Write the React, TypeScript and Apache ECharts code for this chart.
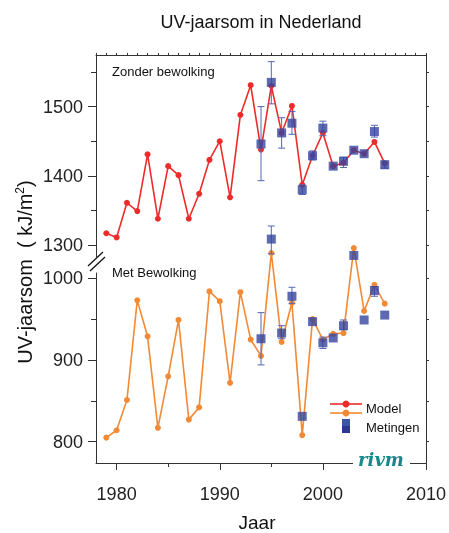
import React, { useEffect, useRef } from 'react';
import * as echarts from 'echarts';

const modelYears = [1979, 1980, 1981, 1982, 1983, 1984, 1985, 1986, 1987, 1988, 1989, 1990, 1991, 1992, 1993, 1994, 1995, 1996, 1997, 1998, 1999, 2000, 2001, 2002, 2003, 2004, 2005, 2006];
const modelClear = [1317, 1311, 1361, 1349, 1431, 1338, 1414, 1401, 1338, 1374, 1423, 1450, 1369, 1488, 1531, 1438, 1530, 1462, 1501, 1387, 1429, 1462, 1414, 1419, 1437, 1432, 1449, 1418];
const modelCloudy = [805, 814, 851, 973, 929, 817, 880, 949, 827, 842, 984, 972, 872, 983, 925, 905, 1031, 922, 970, 808, 950, 925, 932, 933, 1037, 960, 992, 969];

const measYears = [1994, 1995, 1996, 1997, 1998, 1999, 2000, 2001, 2002, 2003, 2004, 2005, 2006];
const measClear = [1446, 1535, 1462, 1476, 1380, 1429, 1469, 1414, 1421, 1437, 1432, 1464, 1416];
const measClearLow = [1393, 1504, 1440, 1460, 1373, 1423, 1458, null, 1412, null, null, 1456, 1411];
const measClearHigh = [1500, 1565, 1484, 1493, 1387, 1436, 1479, null, 1427, null, null, 1473, 1421];
const measCloudy = [926, 1048, 933, 978, 831, 947, 921, 927, 942, 1028, 949, 985, 955];
const measCloudyLow = [894, 1030, 926, 969, null, null, 914, null, 937, null, null, 978, null];
const measCloudyHigh = [958, 1064, 942, 989, null, null, 928, null, 949, null, null, 990, null];

const upperMajorTicks = [1300, 1400, 1500];
const upperMinorTicks = [1350, 1450, 1550];
const upperRightTicks = [1300, 1350, 1400, 1450, 1500, 1550];
const lowerMajorTicks = [800, 900, 1000];
const lowerMinorTicks = [850, 950];
const lowerRightTicks = [800, 850, 900, 950, 1000];
const xMajorTicks = [1980, 1990, 2000, 2010];
const xMinorTicks = [1985, 1995, 2005];
const topTicks = [1978, 1979, 1980, 1981, 1982, 1983, 1984, 1985, 1986, 1987, 1988, 1989, 1990, 1991, 1992, 1993, 1994, 1995, 1996, 1997, 1998, 1999, 2000, 2001, 2002, 2003, 2004, 2005, 2006, 2007, 2008, 2009, 2010];

const FONT = "'Liberation Sans', Arial, sans-serif";
const AX = '#333';
const RED = '#ee2b2b';
const ORANGE = '#f28a35';
const BLUE = '#34459e';
const ERR = '#5566b2';

function pairs(xs: number[], ys: number[]) {
  return xs.map((x, i) => [x, ys[i]]);
}
function errData(xs: number[], lo: (number | null)[], hi: (number | null)[]) {
  const out: number[][] = [];
  xs.forEach((x, i) => {
    if (lo[i] != null && hi[i] != null) out.push([x, lo[i] as number, hi[i] as number]);
  });
  return out;
}

const errRender = (params: any, api: any) => {
  const x = api.value(0);
  const p1 = api.coord([x, api.value(1)]);
  const p2 = api.coord([x, api.value(2)]);
  const w = 3.5;
  const st = { stroke: ERR, lineWidth: 1 };
  return {
    type: 'group',
    children: [
      { type: 'line', shape: { x1: p1[0], y1: p1[1], x2: p2[0], y2: p2[1] }, style: st },
      { type: 'line', shape: { x1: p1[0] - w, y1: p1[1], x2: p1[0] + w, y2: p1[1] }, style: st },
      { type: 'line', shape: { x1: p2[0] - w, y1: p2[1], x2: p2[0] + w, y2: p2[1] }, style: st },
    ],
  };
};

export default function App() {
  const ref = useRef<HTMLDivElement>(null);
  useEffect(() => {
    if (!ref.current) return;
    const chart = echarts.init(ref.current, undefined, { renderer: 'svg' });
    const X_MIN = 1978;
    const X_MAX = 2010;
    const U_MIN = 1282.7;
    const U_MAX = 1574.6;
    const L_MIN = 773.9;
    const L_MAX = 1006.5;
    const lineStyleAx = { color: AX, width: 1 };
    const labelStyle = { color: '#222', fontSize: 18, fontFamily: FONT };
    const noSplit = { show: false };

    const option: any = {
      animation: false,
      grid: [
        { left: 96, right: 23, top: 55, height: 202, outerBoundsMode: 'none', containLabel: false },
        { left: 96, right: 23, top: 273, height: 190, outerBoundsMode: 'none', containLabel: false },
      ],
      xAxis: [
        {
          type: 'value', gridIndex: 0, position: 'top', min: X_MIN, max: X_MAX,
          axisLine: { show: true, lineStyle: lineStyleAx },
          axisTick: { show: true, length: 2, customValues: topTicks, lineStyle: lineStyleAx },
          axisLabel: { show: false }, splitLine: noSplit,
        },
        {
          type: 'value', gridIndex: 1, position: 'bottom', min: X_MIN, max: X_MAX,
          axisLine: { show: true, lineStyle: lineStyleAx },
          axisTick: { show: true, length: 7, customValues: xMajorTicks, lineStyle: lineStyleAx },
          axisLabel: { show: true, customValues: xMajorTicks, margin: 22, formatter: (v: number) => String(v), ...labelStyle },
          splitLine: noSplit,
        },
        {
          type: 'value', gridIndex: 1, position: 'bottom', min: X_MIN, max: X_MAX,
          axisLine: { show: false },
          axisTick: { show: true, length: 4, customValues: xMinorTicks, lineStyle: lineStyleAx },
          axisLabel: { show: false }, splitLine: noSplit,
        },
      ],
      yAxis: [
        {
          type: 'value', gridIndex: 0, position: 'left', min: U_MIN, max: U_MAX,
          axisLine: { show: true, lineStyle: lineStyleAx },
          axisTick: { show: true, length: 8, customValues: upperMajorTicks, lineStyle: lineStyleAx },
          axisLabel: { show: true, customValues: upperMajorTicks, margin: 13, formatter: (v: number) => String(v), ...labelStyle },
          splitLine: noSplit,
        },
        {
          type: 'value', gridIndex: 0, position: 'left', min: U_MIN, max: U_MAX,
          axisLine: { show: false },
          axisTick: { show: true, length: 5, customValues: upperMinorTicks, lineStyle: lineStyleAx },
          axisLabel: { show: false }, splitLine: noSplit,
        },
        {
          type: 'value', gridIndex: 0, position: 'right', min: U_MIN, max: U_MAX,
          axisLine: { show: false },
          axisTick: { show: true, length: 3, customValues: upperRightTicks, lineStyle: lineStyleAx },
          axisLabel: { show: false }, splitLine: noSplit,
        },
        {
          type: 'value', gridIndex: 1, position: 'left', min: L_MIN, max: L_MAX,
          axisLine: { show: true, lineStyle: lineStyleAx },
          axisTick: { show: true, length: 8, customValues: lowerMajorTicks, lineStyle: lineStyleAx },
          axisLabel: { show: true, customValues: lowerMajorTicks, margin: 13, formatter: (v: number) => String(v), ...labelStyle },
          splitLine: noSplit,
        },
        {
          type: 'value', gridIndex: 1, position: 'left', min: L_MIN, max: L_MAX,
          axisLine: { show: false },
          axisTick: { show: true, length: 5, customValues: lowerMinorTicks, lineStyle: lineStyleAx },
          axisLabel: { show: false }, splitLine: noSplit,
        },
        {
          type: 'value', gridIndex: 1, position: 'right', min: L_MIN, max: L_MAX,
          axisLine: { show: false },
          axisTick: { show: true, length: 3, customValues: lowerRightTicks, lineStyle: lineStyleAx },
          axisLabel: { show: false }, splitLine: noSplit,
        },
      ],
      series: [
        {
          name: 'Model', type: 'line', xAxisIndex: 0, yAxisIndex: 0,
          data: pairs(modelYears, modelClear),
          symbol: 'circle', symbolSize: 6,
          lineStyle: { color: RED, width: 1.6 }, itemStyle: { color: RED }, z: 2,
        },
        {
          name: 'Model bewolkt', type: 'line', xAxisIndex: 1, yAxisIndex: 3, clip: false,
          data: pairs(modelYears, modelCloudy),
          symbol: 'circle', symbolSize: 6,
          lineStyle: { color: ORANGE, width: 1.6 }, itemStyle: { color: ORANGE }, z: 2,
        },
        {
          type: 'custom', xAxisIndex: 0, yAxisIndex: 0, renderItem: errRender,
          data: errData(measYears, measClearLow, measClearHigh), z: 3,
        },
        {
          type: 'custom', xAxisIndex: 1, yAxisIndex: 3, renderItem: errRender, clip: false,
          data: errData(measYears, measCloudyLow, measCloudyHigh), z: 3,
        },
        {
          name: 'Metingen', type: 'scatter', xAxisIndex: 0, yAxisIndex: 0,
          data: pairs(measYears, measClear), symbol: 'rect', symbolSize: 9,
          itemStyle: { color: BLUE }, z: 4,
        },
        {
          name: 'Metingen bewolkt', type: 'scatter', xAxisIndex: 1, yAxisIndex: 3, clip: false,
          data: pairs(measYears, measCloudy), symbol: 'rect', symbolSize: 9,
          itemStyle: { color: BLUE }, z: 4,
        },
      ],
      graphic: [
        { type: 'text', x: 261, y: 22, style: { text: 'UV-jaarsom in Nederland', fontSize: 18, fontFamily: FONT, fill: '#111', align: 'center', verticalAlign: 'middle' } },
        {
          type: 'text', x: 25, y: 272, rotation: Math.PI / 2,
          style: {
            text: 'UV-jaarsom  ( kJ/m{sup|2})', fontSize: 20, fontFamily: FONT, fill: '#111', align: 'center', verticalAlign: 'middle',
            rich: { sup: { fontSize: 12, fontFamily: FONT, fill: '#111', verticalAlign: 'top', lineHeight: 23 } },
          },
        },
        { type: 'text', x: 257, y: 522, style: { text: 'Jaar', fontSize: 19, fontFamily: FONT, fill: '#111', align: 'center', verticalAlign: 'middle' } },
        { type: 'text', x: 112, y: 71, style: { text: 'Zonder bewolking', fontSize: 13, fontFamily: FONT, fill: '#111', align: 'left', verticalAlign: 'middle' } },
        { type: 'text', x: 112, y: 272, style: { text: 'Met Bewolking', fontSize: 13, fontFamily: FONT, fill: '#111', align: 'left', verticalAlign: 'middle' } },
        // axis break marks
        { type: 'line', shape: { x1: 88, y1: 266, x2: 103, y2: 252 }, style: { stroke: '#111', lineWidth: 1.3 } },
        { type: 'line', shape: { x1: 90, y1: 271, x2: 105, y2: 257 }, style: { stroke: '#111', lineWidth: 1.3 } },
        // right frame line
        { type: 'line', shape: { x1: 426.5, y1: 55, x2: 426.5, y2: 463 }, style: { stroke: AX, lineWidth: 1 } },
        // rivm logo
        { type: 'rect', shape: { x: 353, y: 458, width: 57, height: 10 }, style: { fill: '#fff' }, z: 100 },
        { type: 'text', x: 381, y: 459, z: 101, style: { text: 'rivm', fontSize: 18, fontStyle: 'italic', fontWeight: 'bold', fontFamily: "'DejaVu Serif', serif", fill: '#17898a', align: 'center', verticalAlign: 'middle' } },
        // legend
        { type: 'line', shape: { x1: 330, y1: 404, x2: 362, y2: 404 }, style: { stroke: RED, lineWidth: 1.6 } },
        { type: 'circle', shape: { cx: 346, cy: 404, r: 3.5 }, style: { fill: RED } },
        { type: 'line', shape: { x1: 330, y1: 413, x2: 362, y2: 413 }, style: { stroke: ORANGE, lineWidth: 1.6 } },
        { type: 'circle', shape: { cx: 346, cy: 413, r: 3.5 }, style: { fill: ORANGE } },
        { type: 'rect', shape: { x: 342, y: 419, width: 8, height: 7 }, style: { fill: '#3a55a8' } },
        { type: 'rect', shape: { x: 342, y: 426, width: 8, height: 7 }, style: { fill: '#2c3592' } },
        { type: 'text', x: 366, y: 408, style: { text: 'Model', fontSize: 13, fontFamily: FONT, fill: '#111', align: 'left', verticalAlign: 'middle' } },
        { type: 'text', x: 366, y: 427, style: { text: 'Metingen', fontSize: 13, fontFamily: FONT, fill: '#111', align: 'left', verticalAlign: 'middle' } },
      ],
    };
    chart.setOption(option);
    return () => chart.dispose();
  }, []);
  return <div ref={ref} style={{ position: 'fixed', left: 0, top: 0, width: 449, height: 533 }} />;
}
